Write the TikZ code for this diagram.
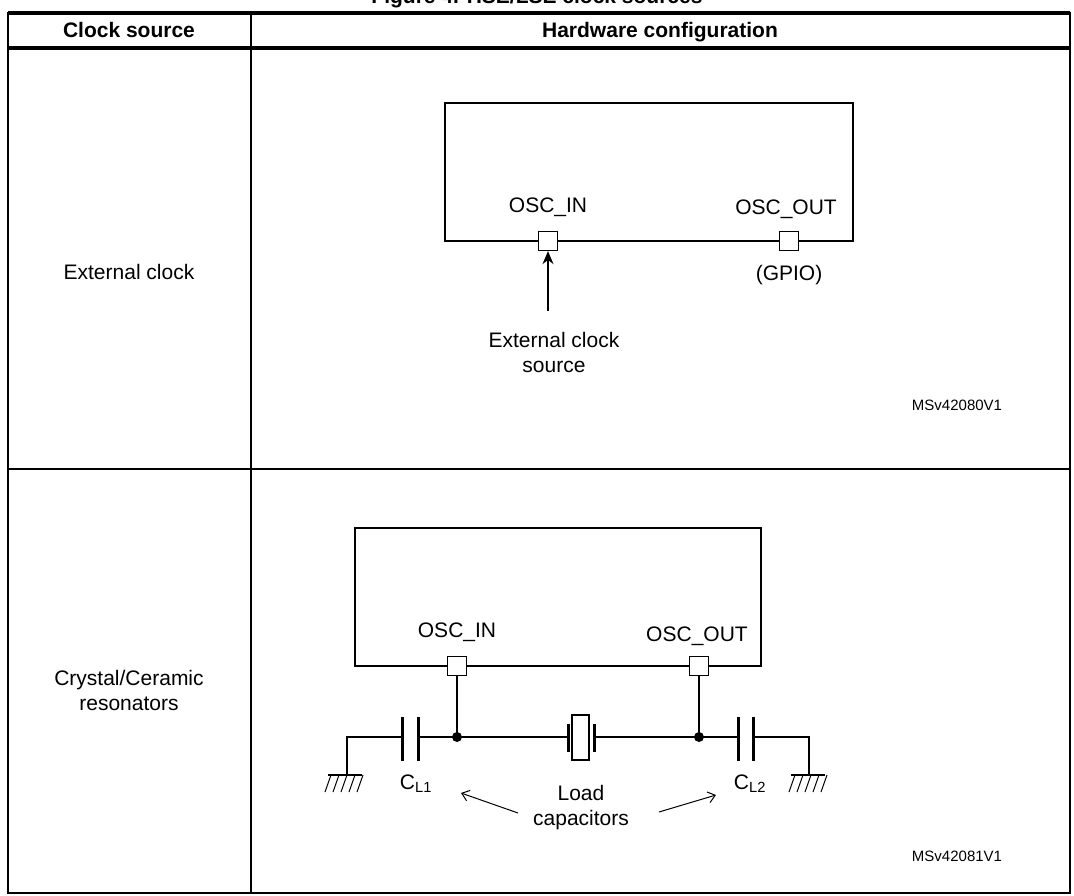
\documentclass[tikz,border=0pt]{standalone}
\usepackage{fontspec}
\setmainfont{Liberation Sans}
\usetikzlibrary{positioning,arrows.meta}

\begin{document}
\begin{tikzpicture}[
    x=1pt, y=-1pt,
    label/.style={font=\fontsize{21}{25}\selectfont, align=center, inner sep=0pt},
    head/.style={font=\fontsize{21}{25}\selectfont\bfseries, inner sep=0pt},
    tag/.style={font=\fontsize{15}{17}\selectfont, inner sep=0pt},
    chip/.style={draw, line width=2.6pt},
    pad/.style={draw, fill=white, line width=1.3pt, minimum size=19pt, inner sep=0pt},
    wire/.style={line width=1.6pt},
    plate/.style={line width=3pt},
    arrow/.style={line width=1.6pt,-{Stealth[length=13pt,width=11pt]}},
    pointer/.style={line width=1pt,-{Straight Barb[length=7pt,width=11pt]}}
]
    \useasboundingbox (0,0) rectangle (1074,896);
    % Title (cut off at top)
    \node[head, anchor=base] (title) at (537,4) {Figure 4. HSE/LSE clock sources};
    % Table
    \draw[line width=1.5pt] (8,13) rectangle (1070,893);
    \draw[line width=3.5pt] (8,13) -- (1070,13);
    \draw[line width=3.5pt] (8,48) -- (1070,48);
    \draw[line width=2pt] (251,13) -- (251,893);
    \draw[line width=2pt] (8,469) -- (1070,469);
    \node[head, anchor=base] (hsrc) at (129,38) {Clock source};
    \node[head, anchor=base] (hcfg) at (660,38) {Hardware configuration};
    \node[label] (ext) at (129,272) {External clock};
    \node[label] (xtal) at (129,690) {Crystal/Ceramic\\resonators};

    % External clock
    \draw[chip] (445,103) rectangle (853,241);
    \node[pad] (inA) at (548,241) {};
    \node[pad] (outA) at (789,241) {};
    \node[label] at (548,207) {OSC\_IN};
    \node[label] at (786,209) {OSC\_OUT};
    \node[label] at (789,275) {(GPIO)};
    \node[label] (srcA) at (554,352) {External clock\\source};
    \coordinate (tailA) at (548,311);
    \draw[arrow] (tailA) -- (inA.south);
    \node[tag] at (957,405) {MSv42080V1};

    % Crystal
    \draw[chip] (355,528) rectangle (761,666);
    \node[pad] (inB) at (457,666) {};
    \node[pad] (outB) at (699,666) {};
    \node[label] at (457,632) {OSC\_IN};
    \node[label] at (697,636) {OSC\_OUT};
    \coordinate (jl) at (457,737);
    \coordinate (jr) at (699,737);
    \fill (jl) circle (5pt) (jr) circle (5pt);
    \draw[wire] (inB.south) -- (jl);
    \draw[wire] (outB.south) -- (jr);
    % left cap and ground
    \draw[wire] (jl) -- (418,737) (402,737) -- (347,737) -- (347,775);
    \draw[plate] (402,717) -- (402,761) (418,717) -- (418,761);
    \draw[wire] (328,775) -- (362,775);
    \foreach \x in {331,339,347,355,363} \draw[line width=1pt] (\x,775) -- (\x-6,792);
    % right cap and ground
    \draw[wire] (jr) -- (738,737) (753,737) -- (809,737) -- (809,775);
    \draw[plate] (738,717) -- (738,761) (753,717) -- (753,761);
    \draw[wire] (791,775) -- (825,775);
    \foreach \x in {795,803,811,819,827} \draw[line width=1pt] (\x,775) -- (\x-6,792);
    % crystal
    \draw[wire] (jl) -- (568,737) (594,737) -- (jr);
    \draw[line width=1.5pt] (572,715) rectangle (589,760);
    \draw[plate] (568,724) -- (568,752) (594,724) -- (594,752);
    % labels
    \node[label] at (416,784) {C\textsubscript{L1}};
    \node[label] at (750,784) {C\textsubscript{L2}};
    \node[label] (load) at (581,808) {Load\\capacitors};
    \coordinate (ptl) at (461,793);
    \coordinate (ptr) at (716,795);
    \draw[pointer] (518,813) -- (ptl);
    \draw[pointer] (659,812) -- (ptr);
    \node[tag] at (957,856) {MSv42081V1};
\end{tikzpicture}
\end{document}
